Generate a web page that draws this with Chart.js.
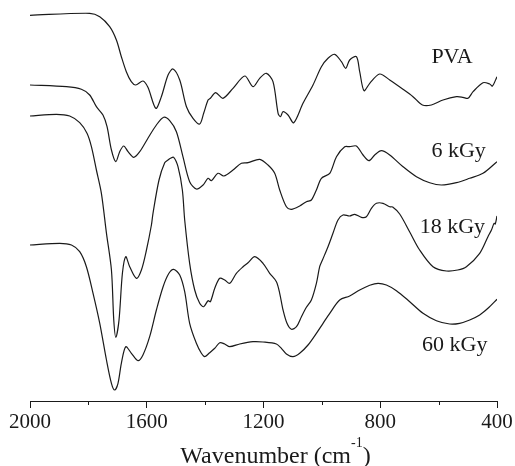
<!DOCTYPE html>
<html>
<head>
<meta charset="utf-8">
<script src="https://cdn.jsdelivr.net/npm/chart.js@4.4.1/dist/chart.umd.min.js"></script>
<style>
  html, body { margin: 0; padding: 0; background: #fff; }
  #wrap { width: 515px; height: 466px; }
</style>
</head>
<body>
<div id="wrap"><canvas id="ftir" width="515" height="466"></canvas></div>
<script>
// FTIR spectra, transmittance in arbitrary (offset) units
const pvaWave = [2000, 1795.5, 1761, 1727, 1704, 1687, 1670, 1653, 1638, 1613, 1596, 1569, 1550, 1527, 1510, 1487, 1464, 1441.5, 1418.6, 1405, 1390, 1382, 1364, 1339, 1304.5, 1264, 1236, 1213, 1190, 1167.5, 1150, 1142, 1133, 1116, 1096.5, 1064.7, 1030.4, 1001.6, 979, 956, 933, 918.4, 904.7, 881.7, 870.4, 855.7, 836, 802, 767.6, 722, 687.8, 655.6, 624.8, 585, 539, 516.5, 499.4, 482, 448, 425, 415.8, 400];
const pvaSignal = [385.7, 387.7, 384.3, 374.3, 361, 344.3, 329.3, 319.3, 316, 320, 313.7, 292.7, 304.3, 326, 332, 321, 294.3, 282.7, 277, 287.7, 301, 302.7, 308.3, 302.7, 312.7, 325, 314.3, 322.7, 327.7, 319.3, 287.7, 284.3, 289.3, 286, 278.3, 297.7, 316, 334.3, 342.7, 346.7, 339.3, 332.7, 341, 344.3, 329.3, 310.3, 317.7, 327, 321, 311.7, 304.3, 296, 296, 301, 304.3, 303.7, 302.7, 309.3, 318.3, 317, 315, 324.3];

const kGy6Wave = [2000, 1875, 1824, 1795.5, 1772.5, 1750, 1736, 1721, 1706, 1692.7, 1679, 1664, 1644.7, 1624, 1596, 1567, 1542, 1521.4, 1498.4, 1476, 1453, 1430, 1407, 1390, 1378.5, 1356, 1336, 1304.5, 1275.7, 1253, 1213, 1184.6, 1161.6, 1144.5, 1121.6, 1104.4, 1076, 1053, 1036, 1018.8, 1001.6, 973, 950, 921.8, 904.7, 881.7, 859, 838.6, 819, 796, 767.6, 722, 676, 630.6, 590.5, 539, 493.5, 448, 400];
const kGy6Signal = [316, 314.3, 311.7, 306, 294.3, 286, 274.3, 251, 239.3, 249.3, 255, 249.3, 243.7, 249.3, 262.7, 276, 283.7, 280.3, 269.3, 244.3, 219.3, 212, 216, 222.7, 220.3, 227.7, 225, 231, 237.7, 238.3, 241.7, 236, 227.7, 211, 194.3, 191.7, 195, 199.3, 201, 211, 222.7, 227.7, 244.3, 254.3, 254.3, 255, 246, 240.3, 246, 250.3, 246, 234.3, 224.3, 218.3, 216, 218.3, 222.7, 227.7, 239.3];

const kGy18Wave = [2000, 1909.6, 1864, 1829.7, 1804.7, 1789.6, 1772.5, 1755.4, 1738, 1721, 1713, 1706, 1695, 1683.4, 1672, 1658.4, 1635.5, 1618.3, 1601, 1584, 1578.6, 1558, 1538.5, 1527, 1519, 1507.7, 1493, 1478, 1470, 1453, 1435.7, 1418.6, 1405, 1390, 1382, 1367, 1350, 1333, 1315.8, 1293, 1270, 1253, 1230, 1201.7, 1178.8, 1155.8, 1144.5, 1133, 1119.5, 1104.4, 1087, 1070, 1053, 1036, 1018.8, 1007.5, 998, 979, 962, 944.8, 927.6, 904.7, 887.5, 864.6, 847.5, 830.3, 813, 790.6, 767.6, 757.4, 733.4, 699, 665, 619.3, 573.4, 534.7, 504.8, 459.3, 431, 419, 410, 406, 400];
const kGy18Signal = [285, 286.7, 285, 278.3, 267.7, 254.3, 231, 207.7, 167.7, 131, 81, 63.7, 81, 127.7, 144.3, 134.3, 122.7, 131, 151, 176, 187.7, 221, 238.3, 241, 242.7, 243.7, 234.3, 211, 181, 137.7, 111, 97.7, 94.3, 100.3, 99.3, 112.7, 122.7, 121, 117.7, 127.7, 134.3, 138.3, 144.3, 137.7, 127.7, 119.3, 107.7, 91, 77.7, 71.7, 74.3, 84.3, 93.7, 101, 117.7, 134.3, 141, 154.3, 167.7, 181, 186, 185, 186.7, 183.7, 184.3, 192.7, 197.7, 197.7, 194.3, 194, 187, 169, 151, 134.3, 130, 131, 134.3, 147.7, 164.3, 171, 177.7, 177, 185];

const kGy60Wave = [2000, 1898, 1858, 1829.7, 1806.8, 1784, 1761, 1738, 1721, 1710, 1698.5, 1687, 1672, 1652.6, 1630, 1613, 1590, 1567, 1544, 1524, 1507.7, 1487, 1470, 1453, 1430, 1412.8, 1401.5, 1386.7, 1367, 1350, 1333, 1315.8, 1281.6, 1236, 1201.7, 1155.8, 1138.7, 1121.6, 1099, 1076, 1047.5, 1018.8, 996, 973, 939, 904.7, 870.4, 836, 807.7, 779, 744.7, 699, 653.5, 607.6, 562, 528, 493.5, 459.3, 431, 400];
const kGy60Signal = [156, 157.7, 156, 149.3, 134.3, 107.7, 77.7, 41, 17.7, 11, 17.7, 37.7, 54.3, 47.7, 40.3, 46, 64.3, 91, 114.3, 127.7, 131.7, 126, 109.3, 77.7, 57.7, 47.7, 44.3, 47.7, 52.7, 58.3, 57, 54.3, 57, 59.3, 59, 57, 52.7, 47, 44.3, 47.7, 56, 67.7, 77.7, 87.7, 101, 105, 111, 115.7, 117.7, 116, 110.3, 99.3, 87.7, 80.3, 77, 77.7, 81, 86, 92.7, 101.7];

const seriesNames = ['PVA', '6 kGy', '18 kGy', '60 kGy'];
const xTickLabels = [2000, 1600, 1200, 800, 400];
const xMinorTicks = [1800, 1400, 1000, 600];

const toPoints = (xs, ys) => xs.map((x, i) => ({ x, y: ys[i] }));

const serif = "'Liberation Serif', 'Times New Roman', serif";
const ink = '#1a1a1a';

// series labels next to the curves (left edge, baseline) in data units
const labelAnchors = [
    { x: 624.8, y: 338.3 },
    { x: 624.8, y: 244.3 },
    { x: 664.8, y: 168.3 },
    { x: 657, y: 50.3 }
];

const decorations = {
    id: 'decorations',
    afterDraw(chart) {
        const { ctx, scales: { x, y }, chartArea } = chart;
        ctx.save();
        // minor ticks
        ctx.strokeStyle = ink;
        ctx.lineWidth = 1;
        xMinorTicks.forEach(v => {
            const px = Math.round(x.getPixelForValue(v)) + 0.5;
            ctx.beginPath();
            ctx.moveTo(px, chartArea.bottom);
            ctx.lineTo(px, chartArea.bottom + 4);
            ctx.stroke();
        });

        // curve labels
        ctx.fillStyle = ink;
        ctx.font = `22px ${serif}`;
        ctx.textAlign = 'left';
        ctx.textBaseline = 'alphabetic';
        seriesNames.forEach((name, i) => {
            const a = labelAnchors[i];
            ctx.fillText(name, x.getPixelForValue(a.x), y.getPixelForValue(a.y));
        });

        // axis title with superscript
        const main1 = 'Wavenumber (cm';
        const sup = '-1';
        const main2 = ')';
        ctx.font = `24px ${serif}`;
        const w1 = ctx.measureText(main1).width;
        const w3 = ctx.measureText(main2).width;
        ctx.font = `14px ${serif}`;
        const w2 = ctx.measureText(sup).width;
        const total = w1 + w2 + w3;
        const cx = (chartArea.left + chartArea.right) / 2 + 12;
        let tx = cx - total / 2;
        const base = 462.5;
        ctx.font = `24px ${serif}`;
        ctx.fillText(main1, tx, base);
        tx += w1;
        ctx.font = `14px ${serif}`;
        ctx.fillText(sup, tx, base - 16);
        tx += w2;
        ctx.font = `24px ${serif}`;
        ctx.fillText(main2, tx, base);
        ctx.restore();
    }
};

const lineStyle = {
    borderColor: ink,
    borderWidth: 1.2,
    pointRadius: 0,
    tension: 0.3,
    fill: false
};

new Chart(document.getElementById('ftir'), {
    type: 'line',
    data: {
        datasets: [
            { label: seriesNames[0], data: toPoints(pvaWave, pvaSignal), ...lineStyle },
            { label: seriesNames[1], data: toPoints(kGy6Wave, kGy6Signal), ...lineStyle },
            { label: seriesNames[2], data: toPoints(kGy18Wave, kGy18Signal), ...lineStyle },
            { label: seriesNames[3], data: toPoints(kGy60Wave, kGy60Signal), ...lineStyle }
        ]
    },
    options: {
        responsive: false,
        animation: false,
        devicePixelRatio: 1,
        layout: { padding: { left: 30, right: 18, top: 0, bottom: 0 } },
        plugins: {
            legend: { display: false },
            tooltip: { enabled: false }
        },
        scales: {
            x: {
                type: 'linear',
                reverse: true,
                min: 400,
                max: 2000,
                afterFit(scale) { scale.height = 65; },
                afterBuildTicks(scale) {
                    scale.ticks = xTickLabels.map(v => ({ value: v }));
                },
                border: { display: true, color: ink, width: 1 },
                grid: { display: true, drawOnChartArea: false, drawTicks: true, tickLength: 7, color: ink },
                ticks: {
                    color: ink,
                    padding: 2,
                    maxRotation: 0,
                    autoSkip: false,
                    font: { family: serif, size: 21 },
                    callback: v => String(v)
                },
                title: { display: false }
            },
            y: {
                type: 'linear',
                display: false,
                min: 0,
                max: 401
            }
        }
    },
    plugins: [decorations]
});
</script>
</body>
</html>
